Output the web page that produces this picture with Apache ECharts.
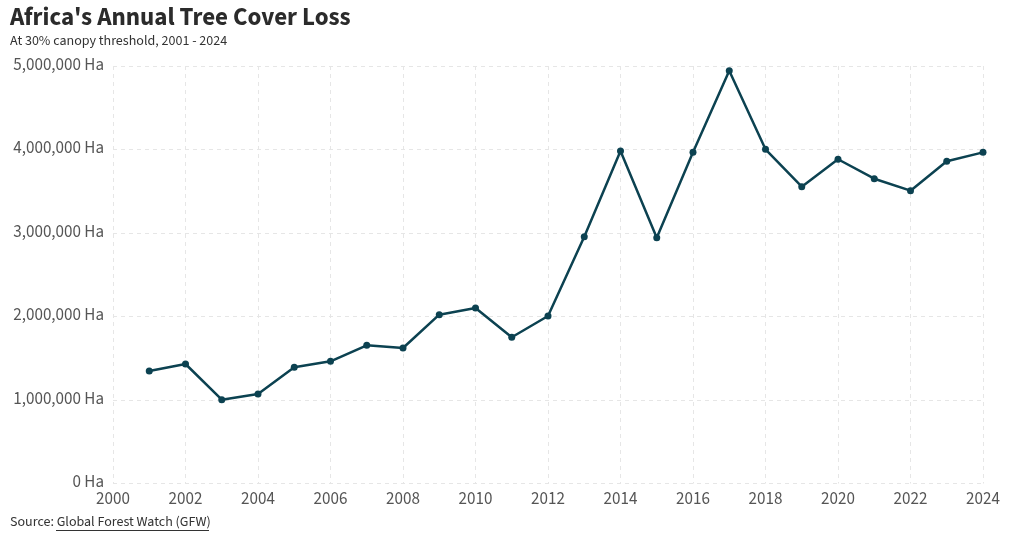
<!DOCTYPE html>
<html>
<head>
<meta charset="utf-8">
<script src="https://cdn.jsdelivr.net/npm/echarts@6/dist/echarts.min.js"></script>
<style>html,body{margin:0;padding:0;background:#fff}#c{width:1016px;height:540px}</style>
</head>
<body>
<div id="c"></div>
<script>
const years = [2001,2002,2003,2004,2005,2006,2007,2008,2009,2010,2011,2012,2013,2014,2015,2016,2017,2018,2019,2020,2021,2022,2023,2024];
const lossHa = [1347000,1431000,1004000,1072000,1392000,1463000,1655000,1623000,2022000,2102000,1751000,2006000,2956000,3982000,2944000,3966000,4944000,4002000,3555000,3883000,3650000,3507000,3859000,3966000];
const titleText = "Africa's Annual Tree Cover Loss";
const subtitleText = "At 30% canopy threshold, 2001 - 2024";
const sourceLabel = "Source: ";
const sourceLink = "Global Forest Watch (GFW)";

const FONT = "'Source Sans 3','Source Sans Pro','Noto Sans',Lato,sans-serif";
const chart = echarts.init(document.getElementById('c'));
const points = years.map((y, i) => [y, lossHa[i]]);
chart.setOption({
  animation: false,
  textStyle: { fontFamily: FONT },
  title: {
    text: titleText,
    subtext: subtitleText,
    left: 10, top: 7,
    padding: 0,
    itemGap: 3,
    textStyle: { fontFamily: FONT, fontSize: 25, fontWeight: 'bold', color: '#2b2b2b' },
    subtextStyle: { fontFamily: FONT, fontSize: 14, color: '#333' }
  },
  grid: { left: 113, right: 33, top: 66, bottom: 56.5, containLabel: false },
  xAxis: {
    type: 'value', min: 2000, max: 2024, interval: 2,
    axisLine: { show: false }, axisTick: { show: false },
    axisLabel: { color: '#555', fontSize: 17, fontFamily: FONT, margin: 8, formatter: v => String(v) },
    splitLine: { show: true, lineStyle: { type: [4, 4], color: '#e6e6e6' } }
  },
  yAxis: {
    type: 'value', min: 0, max: 5000000, interval: 1000000,
    axisLine: { show: false }, axisTick: { show: false },
    axisLabel: { color: '#555', fontSize: 17, fontFamily: FONT, margin: 9,
      formatter: v => v.toLocaleString('en-US') + ' Ha' },
    splitLine: { show: true, lineStyle: { type: [4, 4], color: '#e6e6e6' } }
  },
  graphic: [
    { type: 'text', left: 10, top: 516, style: { text: sourceLabel + sourceLink, font: '14px ' + FONT, fill: '#333' } },
    { type: 'line', shape: { x1: 56, y1: 530.5, x2: 209, y2: 530.5 }, style: { stroke: '#333', lineWidth: 1 } }
  ],
  series: [{
    type: 'line',
    data: points,
    symbol: 'circle', symbolSize: 7,
    lineStyle: { color: '#0c4251', width: 2.5 },
    itemStyle: { color: '#0c4251' }
  }]
});
</script>
</body>
</html>
